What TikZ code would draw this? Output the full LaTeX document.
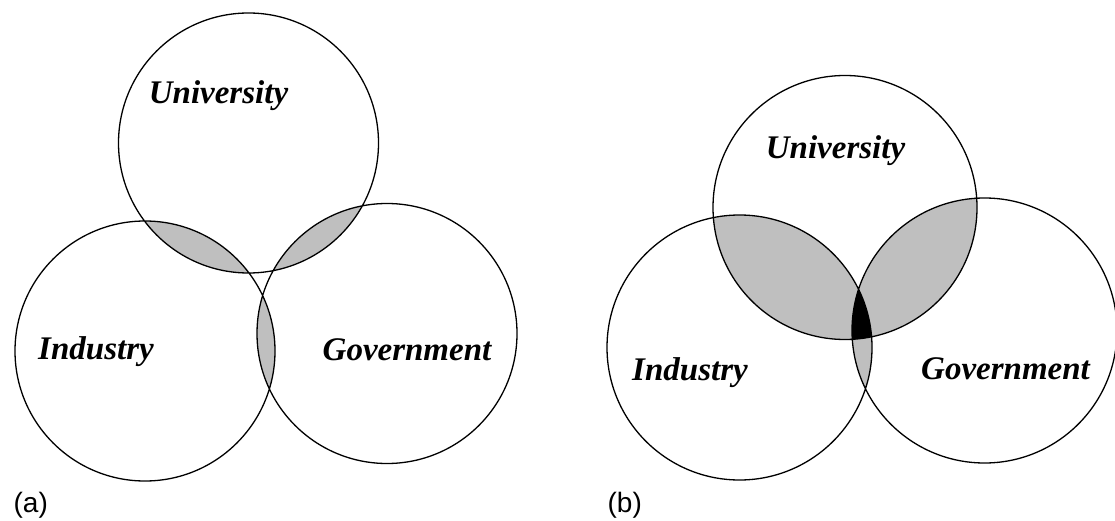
\documentclass[tikz,border=0pt]{standalone}
\usepackage{fontspec}
\setmainfont{Liberation Serif}
\newfontfamily\panelfont{Liberation Sans}
\definecolor{overlap}{gray}{0.75}
\begin{document}
\begin{tikzpicture}[x=1pt,y=-1pt,line width=1.3pt,
  sector/.style={font=\fontsize{33}{33}\selectfont\bfseries\itshape,anchor=base,inner sep=0pt},
  panel/.style={font=\fontsize{28}{28}\selectfont\panelfont,anchor=base west,inner sep=0pt}]
\useasboundingbox (0,0) rectangle (1115,521);
\def\univa{(248.5,143) circle (130)}
\def\indua{(145,351) circle (130)}
\def\gova{(387,333.5) circle (130)}
\def\univb{(845,207.5) circle (132)}
\def\indub{(739.5,347.5) circle (132.5)}
\def\govb{(984.5,330.5) circle (132.5)}

% (a): pairwise overlaps
\begin{scope}
\clip \univa;
\fill[overlap] \indua;
\fill[overlap] \gova;
\end{scope}
\begin{scope}
\clip \indua;
\fill[overlap] \gova;
\end{scope}

% (b): pairwise overlaps, all three in black
\begin{scope}
\clip \univb;
\fill[overlap] \indub;
\fill[overlap] \govb;
\end{scope}
\begin{scope}
\clip \indub;
\fill[overlap] \govb;
\end{scope}
\begin{scope}
\clip \univb;
\clip \indub;
\fill[black] \govb;
\end{scope}

\draw \univa \indua \gova;
\draw \univb \indub \govb;

\node[sector] (univa) at (218.5,104) {University};
\node[sector] (indua) at (96,359) {Industry};
\node[sector] (gova) at (407,360) {Government};
\node[sector] (univb) at (835.5,159) {University};
\node[sector] (indub) at (690,380) {Industry};
\node[sector] (govb) at (1005.5,379) {Government};

\node[panel] (capa) at (13,512) {(a)};
\node[panel] (capb) at (607,512) {(b)};
\end{tikzpicture}
\end{document}
